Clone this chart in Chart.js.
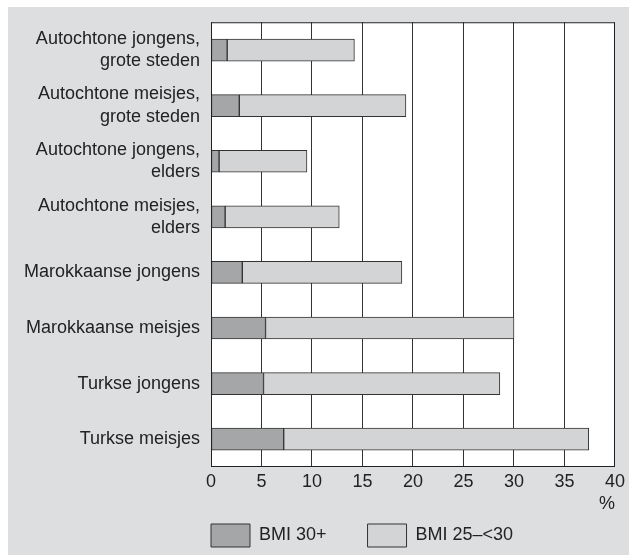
<!DOCTYPE html>
<html>
<head>
<meta charset="utf-8">
<script src="https://cdn.jsdelivr.net/npm/chart.js@4"></script>
<style>
  html, body { margin: 0; padding: 0; background: #fff; }
  #wrap { width: 629px; height: 555px; }
</style>
</head>
<body>
<div id="wrap"><canvas id="barChart" width="629" height="555"></canvas></div>
<script>
// data (%)
const groups = [
    ["Autochtone jongens,", "grote steden"],
    ["Autochtone meisjes,", "grote steden"],
    ["Autochtone jongens,", "elders"],
    ["Autochtone meisjes,", "elders"],
    "Marokkaanse jongens",
    "Marokkaanse meisjes",
    "Turkse jongens",
    "Turkse meisjes"
];
const bmi30 = [1.6, 2.8, 0.8, 1.4, 3.1, 5.4, 5.2, 7.2];
const bmi25 = [12.6, 16.5, 8.7, 11.3, 15.8, 24.6, 23.4, 30.2];
const xTicks = [0, 5, 10, 15, 20, 25, 30, 35, 40];

const font = "'Liberation Sans', Arial, sans-serif";
const legendGap = 41;

// grey page, white plot area, black frame, legend placement
const frame = {
    id: 'frame',
    beforeUpdate(chart) {
        const lg = chart.legend;
        if (lg && !lg._patched) {
            const fit = lg.fit.bind(lg);
            lg.fit = function () { fit(); this.height = 40; };
            lg._patched = true;
        }
    },
    afterLayout(chart) {
        const lg = chart.legend;
        lg.left = chart.chartArea.left - legendGap;
        lg.top = 524 - legendGap;
    },
    beforeDraw(chart) {
        const ctx = chart.ctx, a = chart.chartArea;
        ctx.save();
        ctx.fillStyle = '#dddee0';
        ctx.fillRect(8, 7, chart.width - 8, chart.height - 7);
        ctx.fillStyle = '#ffffff';
        ctx.fillRect(a.left, a.top, a.right - a.left, a.bottom - a.top);
        ctx.restore();
    },
    afterDatasetsDraw(chart) {
        const ctx = chart.ctx, a = chart.chartArea;
        ctx.save();
        ctx.strokeStyle = '#222';
        ctx.lineWidth = 1;
        ctx.strokeRect(a.left + 0.5, a.top + 0.5, a.right - a.left - 1, a.bottom - a.top - 1);
        ctx.restore();
    }
};

new Chart("barChart", {
    type: "bar",
    data: {
        labels: groups,
        datasets: [{
            label: "BMI 30+",
            data: bmi30,
            backgroundColor: "#a5a6a8",
            borderColor: "#333",
            borderWidth: 1,
            borderSkipped: false,
            barThickness: 22
        }, {
            label: "BMI 25\u2013<30",
            data: bmi25,
            backgroundColor: "#d3d4d6",
            borderColor: "#333",
            borderWidth: 1,
            borderSkipped: false,
            barThickness: 22
        }]
    },
    options: {
        indexAxis: 'y',
        responsive: false,
        animation: false,
        layout: {padding: {top: 22, right: 13, left: 0, bottom: 0}},
        plugins: {
            legend: {
                position: 'bottom',
                align: 'start',
                labels: {
                    boxWidth: 39,
                    boxHeight: 23,
                    padding: legendGap,
                    color: '#222',
                    font: {family: font, size: 18}
                }
            },
            tooltip: {enabled: false}
        },
        scales: {
            x: {
                stacked: true,
                min: 0,
                max: 40,
                afterBuildTicks(axis) {
                    axis.ticks = xTicks.map(v => ({value: v}));
                },
                afterFit(axis) { axis.height = 48; },
                grid: {color: '#333', lineWidth: 1, drawTicks: false},
                border: {display: false},
                ticks: {
                    padding: 4,
                    color: '#222',
                    font: {family: font, size: 18},
                    maxRotation: 0
                },
                title: {
                    display: true,
                    text: '%',
                    align: 'end',
                    color: '#222',
                    padding: {top: 0, bottom: 0},
                    font: {family: font, size: 18}
                }
            },
            y: {
                stacked: true,
                afterFit(axis) { axis.width = 211; },
                grid: {display: false, drawTicks: false},
                border: {display: false},
                ticks: {
                    padding: 11,
                    color: '#222',
                    font: {family: font, size: 18, lineHeight: 1.25}
                }
            }
        }
    },
    plugins: [frame]
});
</script>
</body>
</html>
